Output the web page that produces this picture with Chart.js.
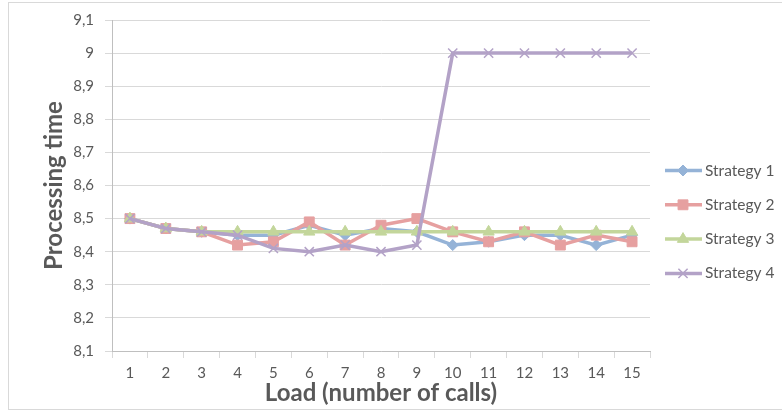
<!DOCTYPE html>
<html>
<head>
<meta charset="utf-8">
<script src="https://cdn.jsdelivr.net/npm/chart.js@4/dist/chart.umd.min.js"></script>
<style>
  html, body { margin: 0; padding: 0; background: #fff; }
  #wrap { position: relative; width: 782px; height: 415px; }
  #frame { position: absolute; left: 8px; top: 2px; width: 780px; height: 408px; border: 1px solid #d9d9d9; box-sizing: border-box; }
  canvas { position: absolute; left: 0; top: 0; }
</style>
</head>
<body>
<div id="wrap">
  <div id="frame"></div>
  <canvas id="chart" width="782" height="415"></canvas>
</div>
<script>
const loads = ['1', '2', '3', '4', '5', '6', '7', '8', '9', '10', '11', '12', '13', '14', '15'];
const strategy1 = [8.50, 8.47, 8.46, 8.45, 8.45, 8.48, 8.45, 8.47, 8.46, 8.42, 8.43, 8.45, 8.45, 8.42, 8.45];
const strategy2 = [8.50, 8.47, 8.46, 8.42, 8.43, 8.49, 8.42, 8.48, 8.50, 8.46, 8.43, 8.46, 8.42, 8.45, 8.43];
const strategy3 = [8.50, 8.47, 8.46, 8.46, 8.46, 8.46, 8.46, 8.46, 8.46, 8.46, 8.46, 8.46, 8.46, 8.46, 8.46];
const strategy4 = [8.50, 8.47, 8.46, 8.45, 8.41, 8.40, 8.42, 8.40, 8.42, 9.00, 9.00, 9.00, 9.00, 9.00, 9.00];
const yTickValues = [8.1, 8.2, 8.3, 8.4, 8.5, 8.6, 8.7, 8.8, 8.9, 9.0, 9.1];

const textColor = '#595959';
const gridColor = '#d9d9d9';
const axisColor = '#bfbfbf';
const fontFamily = 'Lato, "Open Sans", sans-serif';

function series(label, data, color, pointStyle, radius, order) {
    return {
        label: label,
        data: data,
        borderColor: color,
        backgroundColor: color,
        borderWidth: 3.5,
        tension: 0,
        pointStyle: pointStyle,
        pointRadius: radius,
        pointBorderWidth: pointStyle === 'crossRot' ? 1.5 : 1,
        pointBorderColor: color,
        pointBackgroundColor: color,
        order: order
    };
}

// legend on the right: short line with the marker on it, like the office-style charts
const sideLegend = {
    id: 'sideLegend',
    afterDraw(chart) {
        const ctx = chart.ctx;
        const x0 = 665, x1 = 702, mx = 683;
        chart.data.datasets.forEach((ds, i) => {
            const y = 170.5 + i * 34.3;
            ctx.save();
            ctx.strokeStyle = ds.borderColor;
            ctx.fillStyle = ds.backgroundColor;
            ctx.lineWidth = 3.5;
            ctx.beginPath();
            ctx.moveTo(x0, y);
            ctx.lineTo(x1, y);
            ctx.stroke();
            ctx.lineWidth = ds.pointBorderWidth;
            Chart.helpers.drawPoint(ctx, {
                pointStyle: ds.pointStyle,
                radius: ds.pointRadius,
                rotation: 0,
                borderWidth: ds.pointBorderWidth
            }, mx, y);
            ctx.fillStyle = textColor;
            ctx.font = '15.5px ' + fontFamily;
            ctx.textBaseline = 'middle';
            ctx.textAlign = 'left';
            ctx.fillText(ds.label, 705, y);
            ctx.restore();
        });
    }
};

const ctx = document.getElementById('chart').getContext('2d');
new Chart(ctx, {
    type: 'line',
    data: {
        labels: loads,
        datasets: [
            series('Strategy 1', strategy1, '#95b3d7', 'rectRot', 5.5, 3),
            series('Strategy 2', strategy2, '#e6a0a0', 'rect', 7, 2),
            series('Strategy 3', strategy3, '#c3d69b', 'triangle', 6.5, 1),
            series('Strategy 4', strategy4, '#b3a2c7', 'crossRot', 6.5, 0)
        ]
    },
    options: {
        responsive: false,
        animation: false,
        layout: { padding: { top: 20, right: 132, bottom: 0, left: 0 } },
        plugins: {
            legend: { display: false },
            tooltip: { enabled: false }
        },
        scales: {
            x: {
                offset: true,
                grid: {
                    offset: true,
                    drawOnChartArea: false,
                    drawTicks: true,
                    tickLength: 7,
                    color: gridColor
                },
                border: { color: axisColor, width: 1 },
                ticks: {
                    color: textColor,
                    padding: 6,
                    maxRotation: 0,
                    font: { family: fontFamily, size: 15 }
                },
                title: {
                    display: true,
                    text: 'Load (number of calls)',
                    color: textColor,
                    padding: { top: 0, bottom: 7 },
                    font: { family: fontFamily, size: 24, weight: 'bold' }
                },
                afterFit(scale) { scale.height = 64; }
            },
            y: {
                min: 8.1,
                max: 9.1,
                grid: {
                    color: gridColor,
                    drawTicks: true,
                    tickLength: 7
                },
                border: { color: axisColor, width: 1 },
                afterBuildTicks(scale) {
                    scale.ticks = yTickValues.map(v => ({ value: v }));
                },
                ticks: {
                    color: textColor,
                    padding: 11,
                    font: { family: fontFamily, size: 15 },
                    callback: v => String(Math.round(v * 10) / 10).replace('.', ',')
                },
                title: {
                    display: true,
                    text: 'Processing time',
                    color: textColor,
                    padding: { top: 40, bottom: 0 },
                    font: { family: fontFamily, size: 24, weight: 'bold' }
                },
                afterFit(scale) { scale.width = 112; }
            }
        }
    },
    plugins: [sideLegend]
});
</script>
</body>
</html>
